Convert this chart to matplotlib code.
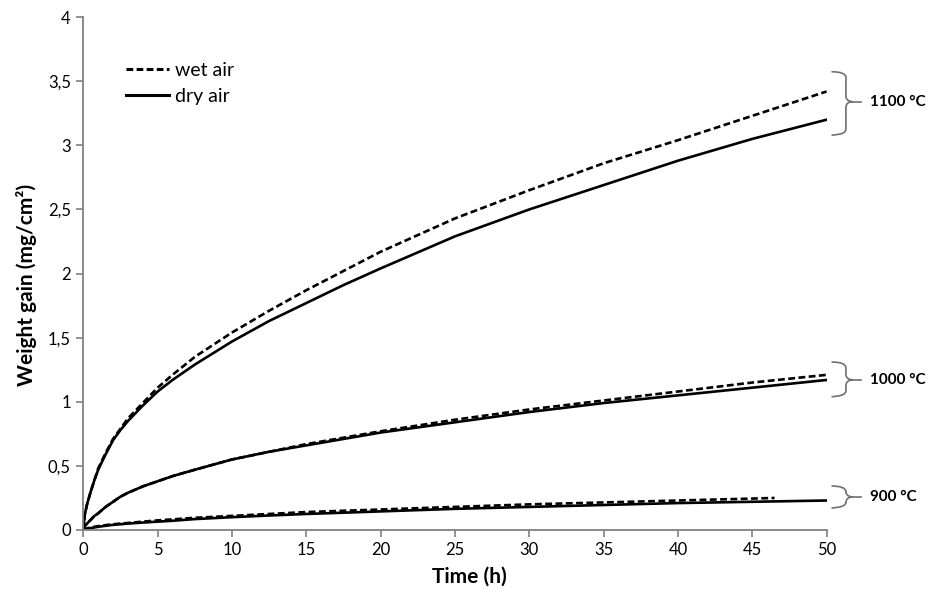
import matplotlib
matplotlib.use("Agg")
import matplotlib.pyplot as plt
from matplotlib.path import Path
from matplotlib.patches import PathPatch

plt.rcParams['font.family'] = ['Lato', 'DejaVu Sans']

# zaman noktaları (h)
t = [0, 0.1, 0.25, 0.5, 0.75, 1, 1.5, 2, 2.5, 3, 4, 5, 6, 7.5, 10, 12.5, 15, 17.5,
     20, 25, 30, 35, 40, 45, 50]
t_wet900 = [0, 0.1, 0.25, 0.5, 0.75, 1, 1.5, 2, 2.5, 3, 4, 5, 6, 7.5, 10, 12.5, 15, 17.5,
            20, 25, 30, 35, 40, 45, 46.5]

# 1100 °C
dry1100 = [0, 0.12, 0.20, 0.30, 0.39, 0.47, 0.59, 0.70, 0.78, 0.85, 0.97, 1.08, 1.17, 1.29,
           1.47, 1.63, 1.77, 1.91, 2.04, 2.29, 2.50, 2.69, 2.88, 3.05, 3.20]
wet1100 = [0, 0.12, 0.20, 0.30, 0.39, 0.48, 0.60, 0.71, 0.79, 0.87, 0.99, 1.11, 1.21, 1.35,
           1.54, 1.71, 1.87, 2.02, 2.17, 2.43, 2.65, 2.86, 3.04, 3.23, 3.42]
# 1000 °C
dry1000 = [0, 0.03, 0.05, 0.08, 0.11, 0.13, 0.18, 0.22, 0.26, 0.29, 0.34, 0.38, 0.42, 0.47,
           0.55, 0.61, 0.66, 0.71, 0.76, 0.84, 0.92, 0.99, 1.05, 1.11, 1.17]
wet1000 = [0, 0.03, 0.05, 0.08, 0.11, 0.13, 0.18, 0.22, 0.26, 0.29, 0.34, 0.38, 0.42, 0.47,
           0.55, 0.61, 0.67, 0.72, 0.77, 0.86, 0.94, 1.01, 1.08, 1.15, 1.21]
# 900 °C
dry900 = [0, 0.005, 0.01, 0.015, 0.02, 0.025, 0.033, 0.04, 0.045, 0.05, 0.058, 0.065, 0.072,
          0.085, 0.10, 0.113, 0.125, 0.135, 0.145, 0.165, 0.18, 0.195, 0.21, 0.22, 0.23]
wet900 = [0, 0.005, 0.012, 0.02, 0.025, 0.03, 0.038, 0.045, 0.05, 0.055, 0.065, 0.075, 0.083,
          0.095, 0.11, 0.125, 0.14, 0.15, 0.16, 0.18, 0.20, 0.215, 0.23, 0.245, 0.25]

xticks = list(range(0, 51, 5))
yticks = [0, 0.5, 1, 1.5, 2, 2.5, 3, 3.5, 4]
ytick_labels = ['0', '0,5', '1', '1,5', '2', '2,5', '3', '3,5', '4']

# braket bilgileri: (üst, orta, alt, etiket)
groups = [(3.574, 3.34, 3.08, '1100 °C'),
          (1.31, 1.17, 1.04, '1000 °C'),
          (0.343, 0.257, 0.172, '900 °C')]

fig = plt.figure(figsize=(9.34, 5.9), dpi=100)
ax = fig.add_axes([0.0892, 0.1017, 0.7958, 0.8693])

lw = 1.9
dash = (0, (2.6, 1.3))
ax.plot(t, wet1100, color='black', lw=lw, linestyle=dash)
ax.plot(t, dry1100, color='black', lw=lw)
ax.plot(t, wet1000, color='black', lw=lw, linestyle=dash)
ax.plot(t, dry1000, color='black', lw=lw)
ax.plot(t_wet900, wet900, color='black', lw=lw, linestyle=dash)
ax.plot(t, dry900, color='black', lw=lw)

ax.set_xlim(0, 50)
ax.set_ylim(0, 4)
ax.set_xticks(xticks)
ax.set_yticks(yticks)
ax.set_yticklabels(ytick_labels)

for s in ['top', 'right']:
    ax.spines[s].set_visible(False)
for s in ['left', 'bottom']:
    ax.spines[s].set_color('#808080')
    ax.spines[s].set_linewidth(1.3)
ax.tick_params(direction='out', length=5, width=1.2, color='#808080',
               labelsize=12, labelcolor='black', pad=4)

ax.set_xlabel('Time (h)', fontsize=15, fontweight='bold')
ax.set_ylabel('Weight gain (mg/cm²)', fontsize=15, fontweight='bold')
ax.xaxis.set_label_coords(0.52, -0.072)
ax.yaxis.set_label_coords(-0.062, 0.478)

# lejant
l1, = ax.plot([], [], color='black', lw=2.2, linestyle=(0, (2.2, 1.1)), label='wet air')
l2, = ax.plot([], [], color='black', lw=2.2, label='dry air')
ax.legend(handles=[l1, l2], loc='upper left', bbox_to_anchor=(0.058, 0.912),
          frameon=False, fontsize=14, handlelength=2.2, handletextpad=0.3,
          labelspacing=0.45, borderpad=0, borderaxespad=0)


# süslü parantez çizimi
def parantez(ust, orta, alt, etiket):
    x0, x1, x2, x3 = 50.33, 51.3, 51.75, 52.3
    ry = 0.045
    verts = [(x0, ust), (x1, ust), (x1, ust - ry),
             (x1, orta + ry),
             (x1, orta), (x2, orta), (x2, orta),
             (x1, orta), (x1, orta - ry),
             (x1, alt + ry),
             (x1, alt), (x0, alt), (x0, alt)]
    codes = [Path.MOVETO, Path.CURVE3, Path.CURVE3,
             Path.LINETO,
             Path.CURVE4, Path.CURVE4, Path.CURVE4,
             Path.CURVE3, Path.CURVE3,
             Path.LINETO,
             Path.CURVE4, Path.CURVE4, Path.CURVE4]
    ax.add_patch(PathPatch(Path(verts, codes), fill=False, edgecolor='#707070',
                           lw=1.2, clip_on=False))
    ax.plot([x2, x3], [orta, orta], color='#707070', lw=1.2, clip_on=False)
    ax.text(52.9, orta, etiket, fontsize=11, fontweight='bold', va='center',
            ha='left', clip_on=False)


for ust, orta, alt, etiket in groups:
    parantez(ust, orta, alt, etiket)

fig.savefig('out.png', dpi=100)
